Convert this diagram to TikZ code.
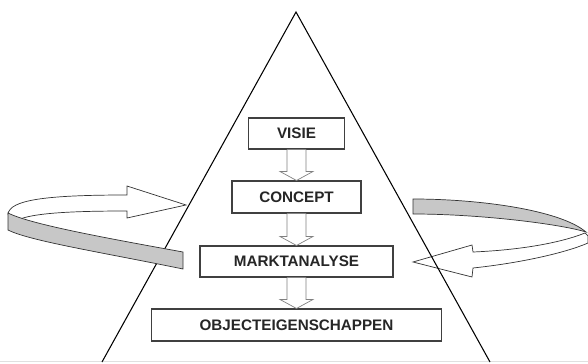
\documentclass[tikz,border=0pt]{standalone}
\usepackage{fontspec}
\setmainfont{Liberation Sans}
\usetikzlibrary{calc}

% holle pijl van het ene blok naar het volgende
\newcommand{\blokpijl}[2]{%
    \draw [pijl] ($(#1.south)+(-9.5,0)$) -- ($(#2.north)+(-9.5,-9)$) -- ($(#2.north)+(-16.5,-9)$) -- (#2.north)
        -- ($(#2.north)+(16.5,-9)$) -- ($(#2.north)+(9.5,-9)$) -- ($(#1.south)+(9.5,0)$);}

\tikzset{
    blok/.style = {draw = black!75, line width = 0.9pt, fill = white, inner sep = 0pt,
        font = \fontsize{13}{15}\selectfont\bfseries, text = black!85},
    pijl/.style = {draw = black!50, line width = 0.6pt, fill = white},
    band/.style = {draw = black!80, line width = 0.6pt, fill = black!22},
    lus/.style = {draw = black!80, line width = 0.6pt, fill = white}
}

\begin{document}
\begin{tikzpicture}[x = 0.03cm, y = -0.03cm]
    \useasboundingbox (0,0) rectangle (588,363);

    % achterkant linker lus en voorkant rechter lus (witte pijlen)
    \draw [lus] (8,214) .. controls (10,200) and (45,195) .. (127,195) -- (127,186) -- (186,205) -- (127,218)
        -- (127,211) .. controls (60,211) and (20,214) .. (12,224) -- cycle;
    \draw [lus] (585,233) .. controls (560,243) and (520,250) .. (473,252) -- (472,245) -- (413,262) -- (472,277)
        -- (473,268) .. controls (520,263) and (565,253) .. (588,243) -- (588,236) -- cycle;

    % piramide
    \draw [black!12, line width = 0.6pt] (0,361.5) -- (588,361.5);
    \draw [line width = 0.9pt] (102,362) -- (296,12) -- (490,362);

    % grijze banden
    \draw [band] (8,213) .. controls (30,224) and (100,237) .. (183,252) -- (183,269)
        .. controls (100,252) and (30,241) .. (8,230) -- cycle;
    \draw [band] (413,199) .. controls (480,199) and (560,210) .. (586,232)
        .. controls (560,224) and (480,214) .. (413,214) -- cycle;

    % blokken
    \node [blok, minimum width = 2.88cm, minimum height = 0.93cm] (visie) at (296.5,133.5) {VISIE};
    \node [blok, minimum width = 3.87cm, minimum height = 0.96cm] (concept) at (296.5,197) {CONCEPT};
    \node [blok, minimum width = 5.79cm, minimum height = 0.93cm] (marktanalyse) at (296.5,261.5) {MARKTANALYSE};
    \node [blok, minimum width = 8.7cm, minimum height = 0.96cm] (objecteig) at (296.5,325) {OBJECTEIGENSCHAPPEN};

    \blokpijl{visie}{concept}
    \blokpijl{concept}{marktanalyse}
    \blokpijl{marktanalyse}{objecteig}
\end{tikzpicture}
\end{document}
